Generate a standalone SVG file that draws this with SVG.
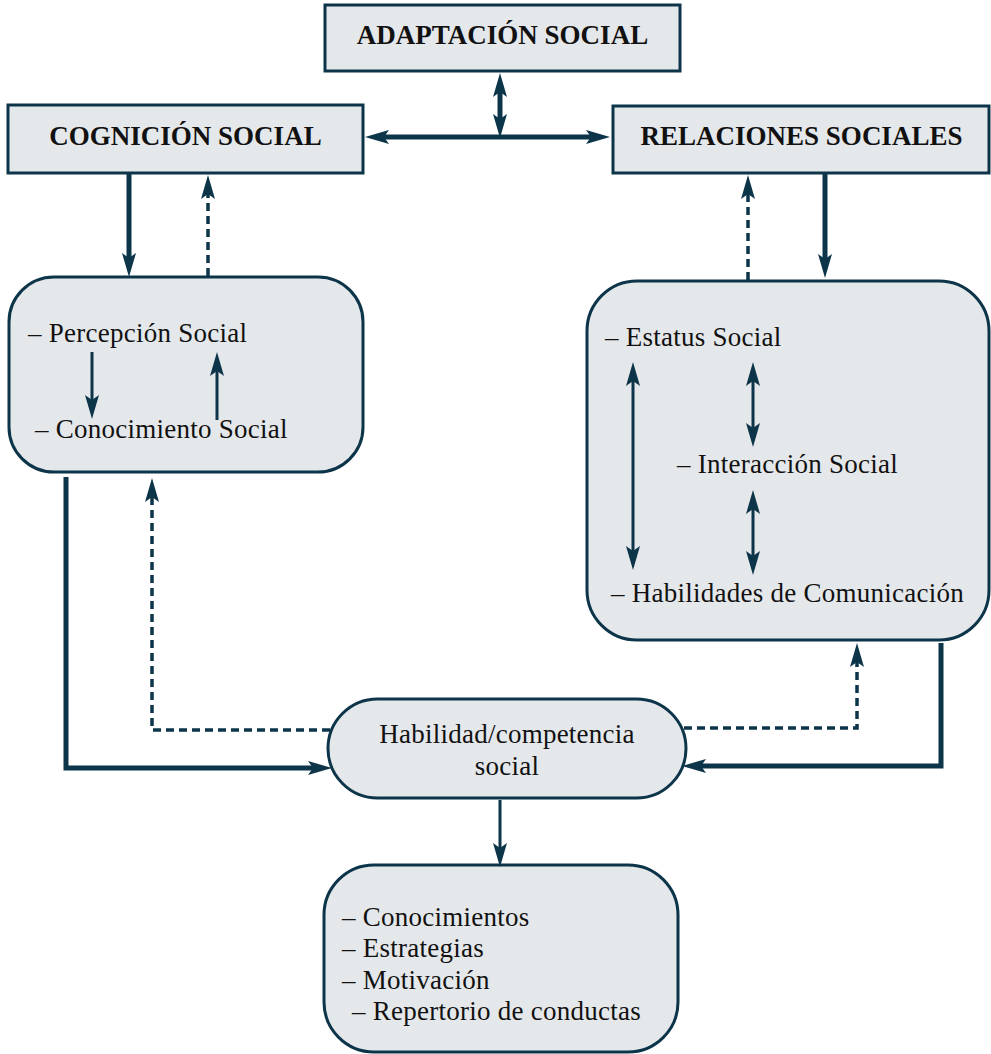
<svg xmlns="http://www.w3.org/2000/svg" width="991" height="1054" viewBox="0 0 991 1054">
<defs>
<style>
.box{fill:#e5e8eb;stroke:#0d3549;stroke-width:3}
.t{font-family:"Liberation Serif","Times New Roman",serif;font-size:27px;letter-spacing:0.25px;fill:#111}
.b{font-family:"Liberation Serif","Times New Roman",serif;font-size:27px;font-weight:bold;fill:#111;text-anchor:middle}
.c{text-anchor:middle}
.thick{fill:none;stroke:#0d3549;stroke-width:5}
.thin{fill:none;stroke:#0d3549;stroke-width:3}
.dash{fill:none;stroke:#0d3549;stroke-width:3.5;stroke-dasharray:8 5}
</style>
<marker id="ah" markerUnits="userSpaceOnUse" viewBox="0 0 24 14" refX="12" refY="7" markerWidth="24" markerHeight="14" orient="auto-start-reverse">
<path d="M0,0 L24,7 L0,14 L5,7 z" fill="#0d3549"/>
</marker>
</defs>
<rect width="991" height="1054" fill="#fff"/>

<g id="adaptacion">
<rect class="box" x="325" y="5" width="355" height="66"/>
<text class="b" x="502.5" y="44">ADAPTACIÓN SOCIAL</text>
</g>
<g id="cognicion">
<rect class="box" x="8" y="105" width="355" height="68"/>
<text class="b" x="185.5" y="145">COGNICIÓN SOCIAL</text>
</g>
<g id="relaciones">
<rect class="box" x="613" y="106" width="376" height="67"/>
<text class="b" x="801.5" y="145">RELACIONES SOCIALES</text>
</g>
<g id="cognicion-detalle">
<rect class="box" x="9" y="277" width="354" height="195" rx="45"/>
<text class="t" x="28" y="342">– Percepción Social</text>
<text class="t" x="35" y="438">– Conocimiento Social</text>
</g>
<g id="relaciones-detalle">
<rect class="box" x="587" y="281" width="402" height="359" rx="50"/>
<text class="t" x="605" y="346">– Estatus Social</text>
<text class="t" x="677" y="473">– Interacción Social</text>
<text class="t" x="611" y="602">– Habilidades de Comunicación</text>
</g>
<g id="habilidad">
<rect class="box" x="328" y="699" width="358" height="99" rx="49.5"/>
<text class="t c" x="507" y="743">Habilidad/competencia</text>
<text class="t c" x="507" y="775">social</text>
</g>
<g id="componentes">
<rect class="box" x="324" y="865" width="354" height="187" rx="50"/>
<text class="t" x="342" y="926">– Conocimientos</text>
<text class="t" x="342" y="957">– Estrategias</text>
<text class="t" x="342" y="989">– Motivación</text>
<text class="t" x="352" y="1020">– Repertorio de conductas</text>
</g>

<g id="connectors">
<line class="thick" x1="500" y1="85" x2="500" y2="126" marker-start="url(#ah)" marker-end="url(#ah)"/>
<line class="thick" x1="377" y1="137" x2="598" y2="137" marker-start="url(#ah)" marker-end="url(#ah)"/>
<line class="thick" x1="129" y1="174" x2="129" y2="265" marker-end="url(#ah)"/>
<line class="dash" x1="208" y1="276" x2="208" y2="187" marker-end="url(#ah)"/>
<line class="dash" x1="748" y1="280" x2="748" y2="187" marker-end="url(#ah)"/>
<line class="thick" x1="825" y1="174" x2="825" y2="266" marker-end="url(#ah)"/>
<line class="thin" x1="92" y1="352" x2="92" y2="407" marker-end="url(#ah)"/>
<line class="thin" x1="217" y1="420" x2="217" y2="364" marker-end="url(#ah)"/>
<line class="thin" x1="633" y1="374" x2="633" y2="558" marker-start="url(#ah)" marker-end="url(#ah)"/>
<line class="thin" x1="753" y1="374" x2="753" y2="435" marker-start="url(#ah)" marker-end="url(#ah)"/>
<line class="thin" x1="753" y1="502" x2="753" y2="563" marker-start="url(#ah)" marker-end="url(#ah)"/>
<path class="thick" d="M66,477 V768 H320" marker-end="url(#ah)"/>
<path class="dash" d="M330,730 H152 V490" marker-end="url(#ah)"/>
<path class="thick" d="M941,643 V766 H694" marker-end="url(#ah)"/>
<path class="dash" d="M684,728 H857 V655" marker-end="url(#ah)"/>
<line class="thin" x1="500" y1="800" x2="500" y2="855" marker-end="url(#ah)"/>
</g>
</svg>
